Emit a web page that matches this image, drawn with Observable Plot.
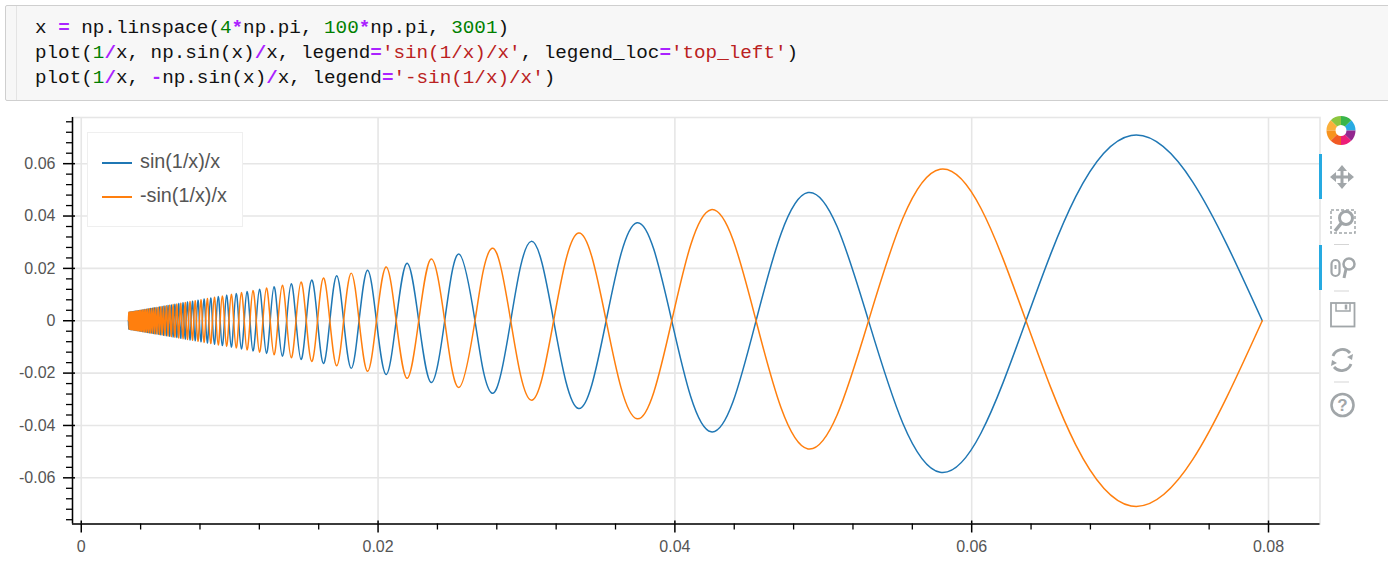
<!DOCTYPE html>
<html>
<head>
<meta charset="utf-8">
<script src="https://cdn.jsdelivr.net/npm/d3@7"></script>
<script src="https://cdn.jsdelivr.net/npm/@observablehq/plot@0.6"></script>
<style>
html,body{margin:0;padding:0;background:#fff;overflow:hidden}
body{width:1388px;height:573px;position:relative}
#cell{position:absolute;left:5px;top:5px;width:1390px;height:94px;background:#f7f7f7;border:1px solid #cfcfcf;border-radius:2px;box-sizing:content-box}
#cell:before{content:"";position:absolute;left:10px;top:0;bottom:0;width:1px;background:#e4e4e4}
#cell pre{position:absolute;left:29px;top:9.5px;margin:0;font:19.27px/25.2px "Liberation Mono",monospace;color:#111}
.o{color:#aa22ff;font-weight:bold}.n{color:#008000}.s{color:#ba2121}
#chart{position:absolute;left:0;top:105px}
#legend{position:absolute;left:87px;top:132px;width:154px;height:93px;background:#fff;border:1px solid #efefef;font:19.8px "Liberation Sans",sans-serif;color:#555}
#legend div{position:absolute;left:52px;white-space:nowrap}
#legend i{position:absolute;left:14px;width:30px;height:1.5px}
#tools{position:absolute;left:0;top:0}
</style>
</head>
<body>
<div id="cell"><pre>x <span class="o">=</span> np.linspace(<span class="n">4</span><span class="o">*</span>np.pi, <span class="n">100</span><span class="o">*</span>np.pi, <span class="n">3001</span>)
plot(<span class="n">1</span><span class="o">/</span>x, np.sin(x)<span class="o">/</span>x, legend<span class="o">=</span><span class="s">'sin(1/x)/x'</span>, legend_loc<span class="o">=</span><span class="s">'top_left'</span>)
plot(<span class="n">1</span><span class="o">/</span>x, <span class="o">-</span>np.sin(x)<span class="o">/</span>x, legend<span class="o">=</span><span class="s">'-sin(1/x)/x'</span>)</pre></div>
<div id="chart"></div>
<div id="legend">
  <i style="top:29px;background:#1f77b4"></i><div style="top:17px">sin(1/x)/x</div>
  <i style="top:63px;background:#ff7f0e"></i><div style="top:51px">-sin(1/x)/x</div>
</div>
<svg id="tools" width="1388" height="573" style="pointer-events:none">
  <rect x="1319" y="154" width="3" height="45" fill="#26aae1"/>
  <rect x="1319" y="245" width="3" height="45" fill="#26aae1"/>
  <g fill="none" stroke-width="9">
    <path d="M1351 130.500A10 10 0 0 0 1348.1 123.400" stroke="#29abe2"/>
    <path d="M1348.1 123.400A10 10 0 0 0 1341 120.500" stroke="#39b54a"/>
    <path d="M1341 120.500A10 10 0 0 0 1333.9 123.400" stroke="#8cc63f"/>
    <path d="M1333.9 123.400A10 10 0 0 0 1331 130.500" stroke="#fbb03b"/>
    <path d="M1331 130.500A10 10 0 0 0 1333.9 137.600" stroke="#f7931e"/>
    <path d="M1333.9 137.600A10 10 0 0 0 1341 140.500" stroke="#f15a24"/>
    <path d="M1341 140.500A10 10 0 0 0 1348.1 137.600" stroke="#ed1e79"/>
    <path d="M1348.1 137.600A10 10 0 0 0 1351 130.500" stroke="#93278f"/>
  </g>
  <g fill="#a1a6a9" stroke="none">
    <path d="M1342 165l5 6h-3.5v4.500h4.500v-3.500l6 5-6 5v-3.500h-4.500v4.500h3.500l-5 6-5-6h3.500v-4.500h-4.500v3.500l-6-5 6-5v3.500h4.500v-4.500h-3.500z"/>
  </g>
  <g fill="none" stroke="#a1a6a9">
    <rect x="1331" y="210" width="24" height="23" stroke-width="1.5" stroke-dasharray="3 2"/>
    <circle cx="1346" cy="218" r="6.5" stroke-width="3" fill="#fff"/>
    <path d="M1341.500 223L1335 231" stroke-width="3.5"/>
    <rect x="1331.500" y="260" width="8" height="16" rx="4" stroke-width="2.2"/>
    <path d="M1335.500 265v4" stroke-width="2"/>
    <circle cx="1349" cy="264" r="5.500" stroke-width="2.5"/>
    <path d="M1346 269L1344 278" stroke-width="3"/>
    <rect x="1331" y="303" width="23.500" height="23.500" stroke-width="1.8"/>
    <path d="M1336 303v8h14v-8" stroke-width="1.5"/>
    <path d="M1346 304.500v5" stroke-width="2.5"/>
    <path d="M1333 356a10 10 0 0 1 17-3M1351 364a10 10 0 0 1-17 3" stroke-width="2.8"/>
    <circle cx="1342.500" cy="405" r="11" stroke-width="2.6"/>
    <path d="M1334 244.500h15M1334 291h15M1334 382h15" stroke="#d5d5d5" stroke-width="1"/>
  </g>
  <g fill="#a1a6a9">
    <path d="M1353 354l-1 6-5-3zM1331 366l1-6 5 3z"/>
    <text x="1342.500" y="411" font-family="Liberation Sans" font-weight="bold" font-size="17" text-anchor="middle">?</text>
  </g>
</svg>
<script>
const curveX = [
.07958,.07490,.07074,.06701,.06366,.06063,.05787,.05536,.05305,.05093,.04897,.04716,.04547,.04391,.04244,.04107,.03979,.03858,.03745,.03638,.03537,.03441,.03351,.03265,.03183,.03105,.03032,.02961,.02894,.02829,.02768,.02709,.02653,
.02546,.02449,.02358,.02274,.02195,.02122,.02054,.01989,.01929,.01872,.01819,.01768,.01721,.01675,.01632,.01592,
.01553,.01516,.01481,.01447,.01415,.01384,.01355,.01326,.01299,.01273,.01248,.01224,.01201,.01179,.01157,.01137,
.01117,.01098,.01079,.01061,.01044,.01027,.01011,.00995,.00979,.00965,.00950,.00936,.00923,.00909,.00897,.00884,
.00872,.00860,.00849,.00838,.00827,.00816,.00806,.00796,.00786,.00776,.00767,.00758,.00749,.00740,.00732,.00723,
.00715,.00707,.00700,.00692,.00685,.00677,.00670,.00663,.00656,.00650,.00643,.00637,.00630,.00624,.00618,.00612,
.00606,.00601,.00595,.00589,.00584,.00579,.00574,.00568,.00563,.00558,.00554,.00549,.00544,.00540,.00535,.00531,
.00526,.00522,.00518,.00513,.00509,.00505,.00501,.00497,.00494,.00490,.00486,.00482,.00479,.00475,.00472,.00468,
.00465,.00461,.00458,.00455,.00452,.00448,.00445,.00442,.00439,.00436,.00433,.00430,.00427,.00424,.00422,.00419,
.00416,.00413,.00411,.00408,.00405,.00403,.00400,.00398,.00395,.00393,.00391,.00388,.00386,.00384,.00381,.00379,
.00377,.00374,.00372,.00370,.00368,.00366,.00364,.00362,.00360,.00358,.00356,.00354,.00352,.00350,.00348,.00346,
.00344,.00342,.00340,.00339,.00337,.00335,.00333,.00332,.00330,.00328,.00326,.00325,.00323,.00322,.00320,.00318];

const sinValues = [
0,.05296,.07074,.04739,0,-.04287,-.05787,-.03914,0,.03601,.04897,.03335,0,-.03105,-.04244,-.02904,0,.02728,.03745,.02572,0,-.02433,-.03351,-.02309,0,.02196,.03032,.02094,0,-.02001,-.02768,-.01916,0,
.02546,0,-.02358,0,.02195,0,-.02054,0,.01929,0,-.01819,0,.01721,0,-.01632,0,
.01553,0,-.01481,0,.01415,0,-.01355,0,.01299,0,-.01248,0,.01201,0,-.01157,0,
.01117,0,-.01079,0,.01044,0,-.01011,0,.00979,0,-.00950,0,.00923,0,-.00897,0,
.00872,0,-.00849,0,.00827,0,-.00806,0,.00786,0,-.00767,0,.00749,0,-.00732,0,
.00715,0,-.00700,0,.00685,0,-.00670,0,.00656,0,-.00643,0,.00630,0,-.00618,0,
.00606,0,-.00595,0,.00584,0,-.00574,0,.00563,0,-.00554,0,.00544,0,-.00535,0,
.00526,0,-.00518,0,.00509,0,-.00501,0,.00494,0,-.00486,0,.00479,0,-.00472,0,
.00465,0,-.00458,0,.00452,0,-.00445,0,.00439,0,-.00433,0,.00427,0,-.00422,0,
.00416,0,-.00411,0,.00405,0,-.00400,0,.00395,0,-.00391,0,.00386,0,-.00381,0,
.00377,0,-.00372,0,.00368,0,-.00364,0,.00360,0,-.00356,0,.00352,0,-.00348,0,
.00344,0,-.00340,0,.00337,0,-.00333,0,.00330,0,-.00326,0,.00323,0,-.00320,0];

const minusSinValues = [
0,-.05296,-.07074,-.04739,0,.04287,.05787,.03914,0,-.03601,-.04897,-.03335,0,.03105,.04244,.02904,0,-.02728,-.03745,-.02572,0,.02433,.03351,.02309,0,-.02196,-.03032,-.02094,0,.02001,.02768,.01916,0,
-.02546,0,.02358,0,-.02195,0,.02054,0,-.01929,0,.01819,0,-.01721,0,.01632,0,
-.01553,0,.01481,0,-.01415,0,.01355,0,-.01299,0,.01248,0,-.01201,0,.01157,0,
-.01117,0,.01079,0,-.01044,0,.01011,0,-.00979,0,.00950,0,-.00923,0,.00897,0,
-.00872,0,.00849,0,-.00827,0,.00806,0,-.00786,0,.00767,0,-.00749,0,.00732,0,
-.00715,0,.00700,0,-.00685,0,.00670,0,-.00656,0,.00643,0,-.00630,0,.00618,0,
-.00606,0,.00595,0,-.00584,0,.00574,0,-.00563,0,.00554,0,-.00544,0,.00535,0,
-.00526,0,.00518,0,-.00509,0,.00501,0,-.00494,0,.00486,0,-.00479,0,.00472,0,
-.00465,0,.00458,0,-.00452,0,.00445,0,-.00439,0,.00433,0,-.00427,0,.00422,0,
-.00416,0,.00411,0,-.00405,0,.00400,0,-.00395,0,.00391,0,-.00386,0,.00381,0,
-.00377,0,.00372,0,-.00368,0,.00364,0,-.00360,0,.00356,0,-.00352,0,.00348,0,
-.00344,0,.00340,0,-.00337,0,.00333,0,-.00330,0,.00326,0,-.00323,0,.00320,0];

const xMajor = [0,.02,.04,.06,.08];
const xMinor = [.004,.008,.012,.016,.024,.028,.032,.036,.044,.048,.052,.056,.064,.068,.072,.076];
const yMajor = [-.06,-.04,-.02,0,.02,.04,.06];
const yMinor = [-.076,-.072,-.068,-.064,-.056,-.052,-.048,-.044,-.036,-.032,-.028,-.024,-.016,-.012,-.008,-.004,.004,.008,.012,.016,.024,.028,.032,.036,.044,.048,.052,.056,.064,.068,.072,.076];
const xDomain = [-.00059, .08347];
const yDomain = [-.07764, .07764];

const sinRows = curveX.map((x,i)=>({x, y: sinValues[i]}));
const minusRows = curveX.map((x,i)=>({x, y: minusSinValues[i]}));
const fmt = d => String(d);
const gridColor = "#e6e6e6";

const chart = Plot.plot({
  width: 1388, height: 468,
  marginLeft: 72, marginRight: 68.5, marginTop: 12, marginBottom: 49.5,
  x: {domain: xDomain, axis: null},
  y: {domain: yDomain, axis: null},
  style: {background: "transparent", fontFamily: "'Liberation Sans',sans-serif", fontSize: "16px", color: "#555"},
  marks: [
    Plot.ruleX(xMajor, {stroke: gridColor, strokeWidth: 1.6}),
    Plot.ruleY(yMajor, {stroke: gridColor, strokeWidth: 1.6}),
    Plot.frame({stroke: gridColor, strokeWidth: 1.6}),
    Plot.line(sinRows, {x: "x", y: "y", curve: "natural", stroke: "#1f77b4", strokeWidth: 1.5}),
    Plot.line(minusRows, {x: "x", y: "y", curve: "natural", stroke: "#ff7f0e", strokeWidth: 1.5}),
    Plot.ruleX([xDomain[0]], {stroke: "#000", strokeWidth: 1.5}),
    Plot.ruleY([yDomain[0]], {stroke: "#000", strokeWidth: 1.5}),
    Plot.axisX({ticks: xMinor, tickSize: 6, tickFormat: () => "", label: null, stroke: "#000", strokeWidth: 1.3}),
    Plot.axisY({ticks: yMinor, tickSize: 6, tickFormat: () => "", label: null, stroke: "#000", strokeWidth: 1.3}),
    Plot.axisX({ticks: xMajor, tickSize: 9, tickPadding: 8, tickFormat: fmt, label: null, stroke: "#000", strokeWidth: 1.5, fill: "#555", fontSize: 16}),
    Plot.axisY({ticks: yMajor, tickSize: 9, tickPadding: 8, tickFormat: fmt, label: null, stroke: "#000", strokeWidth: 1.5, fill: "#555", fontSize: 16}),
    Plot.ruleX(xMajor, {y1: yDomain[0], y2: -.0765, stroke: "#000", strokeWidth: 1.5}),
    Plot.ruleY(yMajor, {x1: xDomain[0], x2: -.00039, stroke: "#000", strokeWidth: 1.5})
  ]
});
document.getElementById("chart").appendChild(chart);
</script>
</body>
</html>
